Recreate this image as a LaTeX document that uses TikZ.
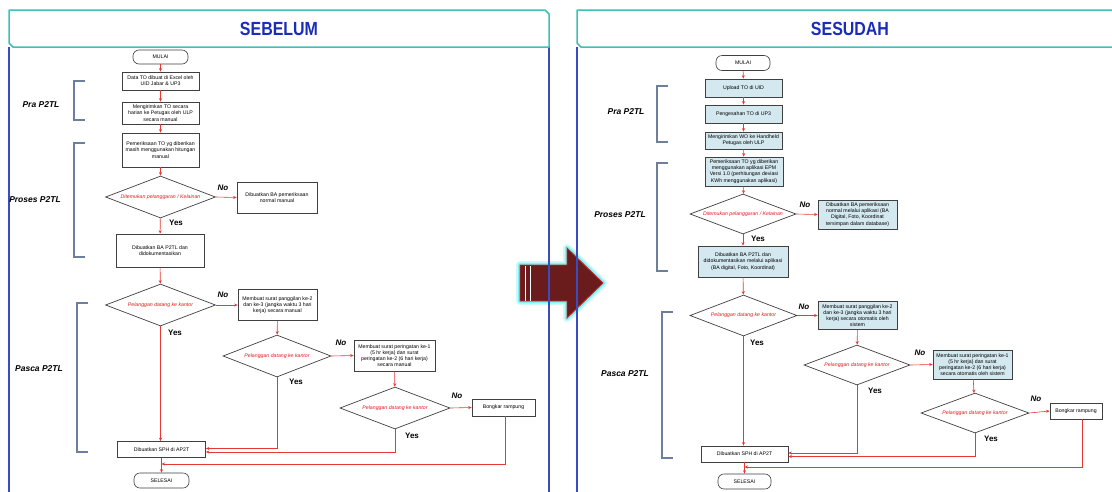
\documentclass[tikz,border=0pt]{standalone}
\usepackage{fontspec}
\setmainfont{Liberation Sans}
\usetikzlibrary{shapes.geometric,arrows.meta}
\definecolor{teal}{HTML}{3FBFB8}
\definecolor{headblue}{HTML}{1A2DB8}
\definecolor{panelblue}{HTML}{3B4CC0}
\definecolor{connred}{HTML}{E53935}
\definecolor{decred}{HTML}{E8191E}
\definecolor{boxgray}{HTML}{404040}
\definecolor{bracketcol}{HTML}{6D7F9C}
\definecolor{lightcyan}{HTML}{D3E8EF}
\definecolor{arrowdark}{HTML}{6A1B1B}
\definecolor{arrowred}{HTML}{C62828}
\definecolor{glowcyan}{HTML}{6FF3F7}
\begin{document}
\begin{tikzpicture}[x=1pt,y=-1pt,
  tinytext/.style={font=\fontsize{5.2}{6.2}\selectfont, align=center},
  procbox/.style={draw=boxgray, line width=0.7pt, fill=white, inner sep=0pt, tinytext},
  bluebox/.style={procbox, fill=lightcyan},
  termbox/.style={draw=boxgray, line width=0.6pt, fill=white, rounded corners=6pt, inner sep=0pt, tinytext},
  decision/.style={diamond, draw=boxgray, line width=0.7pt, fill=white, inner sep=0pt, aspect=2.6,
     font=\fontsize{5.2}{6.2}\selectfont\itshape, text=decred},
  conn/.style={draw=connred, line width=0.6pt, -{Stealth[length=3.5pt,width=3pt]}},
  yes/.style={font=\fontsize{8}{9}\selectfont\bfseries},
  no/.style={font=\fontsize{8}{9}\selectfont\bfseries\itshape},
  phase/.style={font=\fontsize{8.5}{10}\selectfont\bfseries\itshape},
  bracketline/.style={draw=bracketcol, line width=1.1pt},
  header/.style={draw=teal, line width=1.5pt, fill=white, line join=round},
  paneledge/.style={draw=panelblue, line width=1.2pt},
  title/.style={font=\fontsize{19}{20}\selectfont\bfseries, text=headblue}
]
\useasboundingbox (0,0) rectangle (1112,491);
\fill[white] (0,0) rectangle (1112,491);

% ---------- big arrow ----------
\draw[glowcyan, line width=8pt, opacity=0.35, line join=round]
  (520,265) -- (567,265) -- (567,248) -- (603,283) -- (567,318) -- (567,301) -- (520,301) -- cycle;
\draw[glowcyan, line width=4.5pt, opacity=0.8, line join=round]
  (520,265) -- (567,265) -- (567,248) -- (603,283) -- (567,318) -- (567,301) -- (520,301) -- cycle;
\draw[fill=arrowdark, draw=arrowred, line width=0.9pt, line join=miter]
  (520,265) -- (567,265) -- (567,248) -- (603,283) -- (567,318) -- (567,301) -- (520,301) -- cycle;
\draw[white, line width=0.9pt] (525,265.5) -- (525,300.5) (530,265.5) -- (530,300.5);

% ---------- panels ----------
\draw[paneledge] (9,47) -- (9,495) (549,47) -- (549,495);
\draw[paneledge] (577,47) -- (577,495);
\draw[header] (9,10) -- (545,10) -- (549,14) -- (549,47) -- (13,47) -- (9,43) -- cycle;
\draw[header] (577,10) -- (1113,10) -- (1117,14) -- (1117,47) -- (581,47) -- (577,43) -- cycle;
\node[title] (tL) at (279,29) {\scalebox{0.84}[1]{SEBELUM}};
\node[title] (tR) at (850,29) {\scalebox{0.84}[1]{SESUDAH}};

% ---------- left phases ----------
\node[phase] (pL1) at (41,105) {Pra P2TL};
\node[phase] (pL2) at (35,200) {Proses P2TL};
\node[phase] (pL3) at (39,369) {Pasca P2TL};
\draw[bracketline] (85,81) -- (74,81) -- (74,120) -- (85,120);
\draw[bracketline] (85,143) -- (74,143) -- (74,257) -- (85,257);
\draw[bracketline] (88,303) -- (77,303) -- (77,452) -- (88,452);

% ---------- left flow ----------
\node[termbox, minimum width=55pt, minimum height=14pt] (L0) at (160.5,57) {MULAI};
\node[procbox, minimum width=77pt, minimum height=18pt] (L1) at (160.5,81) {Data TO dibuat di Excel oleh\\UID Jabar \& UP3};
\node[procbox, minimum width=77pt, minimum height=22pt] (L2) at (160.5,113) {Mengirimkan TO secara\\harian ke Petugas oleh ULP\\secara manual};
\node[procbox, minimum width=77pt, minimum height=34pt] (L3) at (160.5,150) {Pemeriksaan TO yg diberikan\\masih menggunakan hitungan\\manual};
\node[decision, minimum width=110pt, minimum height=42pt] (LD1) at (160.5,197) {Ditemukan pelanggaran / Kelainan};
\node[procbox, minimum width=80pt, minimum height=31pt] (LN1) at (277,197.5) {Dibuatkan BA pemeriksaan\\normal manual};
\node[procbox, minimum width=88pt, minimum height=33pt] (L4) at (160,250.5) {Dibuatkan BA P2TL dan\\didokumentasikan};
\node[decision, minimum width=110pt, minimum height=42pt] (LD2) at (160.5,305) {Pelanggan datang ke kantor};
\node[procbox, minimum width=79pt, minimum height=31pt] (LN2) at (277.5,305) {Membuat surat panggilan ke-2\\dan ke-3 (jangka waktu 3 hari\\kerja) secara manual};
\node[decision, minimum width=108pt, minimum height=42pt] (LD3) at (277,356) {Pelanggan datang ke kantor};
\node[procbox, minimum width=81pt, minimum height=31pt] (LN3) at (394.5,355.5) {Membuat surat peringatan ke-1\\(5 hr kerja) dan surat\\peringatan ke-2 (6 hari kerja)\\secara manual};
\node[decision, minimum width=110pt, minimum height=42pt] (LD4) at (395,408) {Pelanggan datang ke kantor};
\node[procbox, minimum width=63pt, minimum height=17pt] (LN4) at (503.5,407.5) {Bongkar rampung};
\node[procbox, minimum width=88pt, minimum height=16pt] (LS) at (161.5,449.5) {Dibuatkan SPH di AP2T};
\node[termbox, minimum width=55pt, minimum height=15pt] (LE) at (161.5,480.5) {SELESAI};
\coordinate (LJ) at (161.5,464);

\draw[conn] (L0) -- (L1);
\draw[conn] (L1) -- (L2);
\draw[conn] (L2) -- (L3);
\draw[conn] (L3) -- (LD1);
\draw[conn] (LD1.east) -- (LN1.west);
\draw[conn] (LD1) -- (L4);
\draw[conn] (L4) -- (LD2);
\draw[conn] (LD2.east) -- (LN2.west);
\draw[conn] (LD2.south) -- (LS.north -| LD2.south);
\draw[conn] (LN2) -- (LD3);
\draw[conn] (LD3.east) -- (LN3.west);
\draw[conn] (LN3) -- (LD4);
\draw[conn] (LD4.east) -- (LN4.west);
\draw[conn] (LD3.south) |- ([yshift=1pt]LS.east);
\draw[conn] (LD4.south) |- ([yshift=-2.5pt]LS.east);
\draw[conn] ([xshift=1.5pt]LN4.south) |- (LJ);
\draw[conn] (LS) -- (LE);

\node[no] (nL1) at (223,188) {No};
\node[yes] (yL1) at (176,223) {Yes};
\node[no] (nL2) at (223,295) {No};
\node[yes] (yL2) at (175,333) {Yes};
\node[no] (nL3) at (341,343) {No};
\node[yes] (yL3) at (296,382) {Yes};
\node[no] (nL4) at (457,396) {No};
\node[yes] (yL4) at (412,436) {Yes};

% ---------- right phases ----------
\node[phase] (pR1) at (626,112) {Pra P2TL};
\node[phase] (pR2) at (620,215) {Proses P2TL};
\node[phase] (pR3) at (625,374) {Pasca P2TL};
\draw[bracketline] (668,86) -- (657,86) -- (657,142) -- (668,142);
\draw[bracketline] (668,163) -- (657,163) -- (657,271) -- (668,271);
\draw[bracketline] (673,312) -- (662,312) -- (662,458) -- (673,458);

% ---------- right flow ----------
\node[termbox, minimum width=54pt, minimum height=15pt] (R0) at (743,63) {MULAI};
\node[bluebox, minimum width=77pt, minimum height=18pt] (R1) at (743.5,88) {Upload TO di UID};
\node[bluebox, minimum width=77pt, minimum height=18pt] (R2) at (743.5,114) {Pengesahan TO di UP3};
\node[bluebox, minimum width=77pt, minimum height=17pt] (R3) at (743.5,140.5) {Mengirimkan WO ke Handheld\\Petugas oleh ULP};
\node[bluebox, minimum width=78pt, minimum height=29pt] (R4) at (744,171.5) {Pemeriksaan TO yg diberikan\\menggunakan aplikasi EPM\\Versi 1.0 (perhitungan deviasi\\KWh menggunakan aplikasi)};
\node[decision, minimum width=106pt, minimum height=40pt] (RD1) at (743,214) {Ditemukan pelanggaran / Kelainan};
\node[bluebox, minimum width=79pt, minimum height=29pt] (RN1) at (857.5,214.5) {Dibuatkan BA pemeriksaan\\normal melalui aplikasi (BA\\Digital, Foto, Koordinat\\tersimpan dalam database)};
\node[bluebox, minimum width=90pt, minimum height=31pt] (R5) at (743,261.5) {Dibuatkan BA P2TL dan\\didokumentasikan melalui aplikasi\\(BA digital, Foto, Koordinat)};
\node[decision, minimum width=107pt, minimum height=41pt] (RD2) at (743.5,315.5) {Pelanggan datang ke kantor};
\node[bluebox, minimum width=79pt, minimum height=28pt] (RN2) at (857.5,315.5) {Membuat surat panggilan ke-2\\dan ke-3 (jangka waktu 3 hari\\kerja) secara otomatis oleh\\sistem};
\node[decision, minimum width=106pt, minimum height=40pt] (RD3) at (857,365) {Pelanggan datang ke kantor};
\node[bluebox, minimum width=79pt, minimum height=29pt] (RN3) at (972.5,364.5) {Membuat surat peringatan ke-1\\(5 hr kerja) dan surat\\peringatan ke-2 (6 hari kerja)\\secara otomatis oleh sistem};
\node[decision, minimum width=108pt, minimum height=40pt] (RD4) at (975,413) {Pelanggan datang ke kantor};
\node[procbox, minimum width=52pt, minimum height=16pt] (RN4) at (1076,411) {Bongkar rampung};
\node[procbox, minimum width=87pt, minimum height=16pt] (RS) at (744.5,454) {Dibuatkan SPH di AP2T};
\node[termbox, minimum width=53pt, minimum height=15pt] (RE) at (744.5,481.5) {SELESAI};
\coordinate (RJ) at (744.5,467);

\draw[conn] (R0) -- (R1);
\draw[conn] (R1) -- (R2);
\draw[conn] (R2) -- (R3);
\draw[conn] (R3) -- (R4);
\draw[conn] (R4) -- (RD1);
\draw[conn] (RD1.east) -- (RN1.west);
\draw[conn] (RD1) -- (R5);
\draw[conn] (R5) -- (RD2);
\draw[conn] (RD2.east) -- (RN2.west);
\draw[conn] (RD2.south) -- (RS.north -| RD2.south);
\draw[conn] (RN2) -- (RD3);
\draw[conn] (RD3.east) -- (RN3.west);
\draw[conn] (RN3) -- (RD4);
\draw[conn] (RD4.east) -- (RN4.west);
\draw[conn] (RD3.south) |- ([yshift=1pt]RS.east);
\draw[conn] (RD4.south) |- ([yshift=-2.5pt]RS.east);
\draw[conn] ([xshift=6pt]RN4.south) |- (RJ);
\draw[conn] (RS) -- (RE);

\node[no] (nR1) at (805,205) {No};
\node[yes] (yR1) at (758,239) {Yes};
\node[no] (nR2) at (804,307) {No};
\node[yes] (yR2) at (757,343) {Yes};
\node[no] (nR3) at (920,353) {No};
\node[yes] (yR3) at (875,391) {Yes};
\node[no] (nR4) at (1036,399) {No};
\node[yes] (yR4) at (991,439) {Yes};
\end{tikzpicture}
\end{document}
